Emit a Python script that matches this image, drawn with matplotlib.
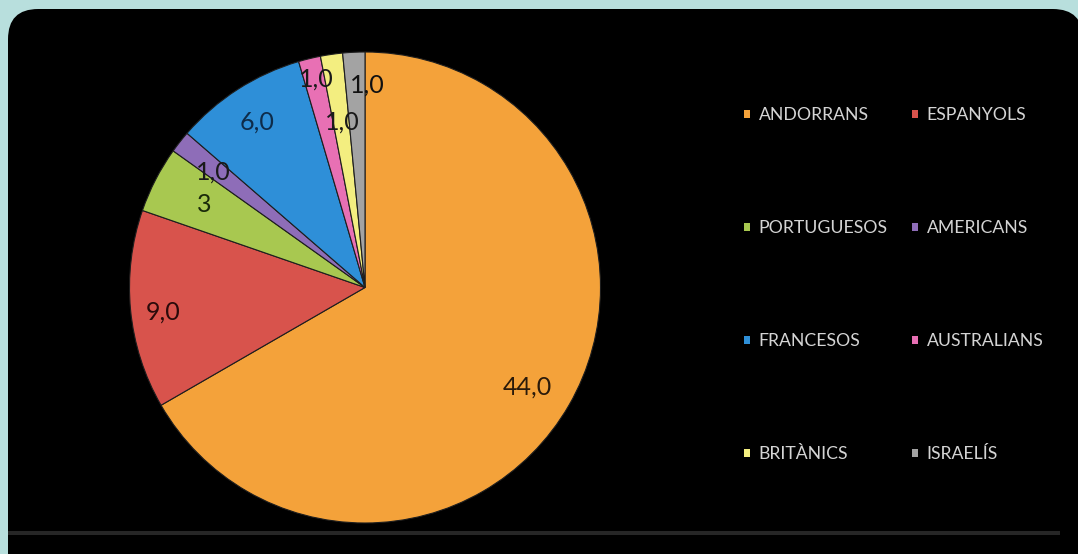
import matplotlib
matplotlib.use("Agg")
import matplotlib.pyplot as plt
from matplotlib.patches import FancyBboxPatch, Rectangle
import numpy as np

categories = ["ANDORRANS", "ESPANYOLS", "PORTUGUESOS", "AMERICANS",
              "FRANCESOS", "AUSTRALIANS", "BRITÀNICS", "ISRAELÍS"]
values = [44, 9, 3, 1, 6, 1, 1, 1]
value_labels = ["44,0", "9,0", "3", "1,0", "6,0", "1,0", "1,0", "1,0"]
colors = ["#F4A23A", "#D8534C", "#A8C850", "#8E6DB8",
          "#2E8FD8", "#E870B4", "#F3EE80", "#A3A3A3"]

W, H = 1078, 554
fig = plt.figure(figsize=(W / 100, H / 100), dpi=100)
fig.patch.set_facecolor("#b8dfdd")

# black rounded panel
panel = FancyBboxPatch((8 / W, (H - 600) / H), 1075 / W, 591 / H,
                       boxstyle="round,pad=0,rounding_size=0.028",
                       transform=fig.transFigure, facecolor="black",
                       edgecolor="none", mutation_aspect=W / H, zorder=-2)
fig.patches.append(panel)
# thin grey line near bottom
fig.patches.append(Rectangle((8 / W, (H - 535) / H), 1052 / W, 4 / H,
                             transform=fig.transFigure, facecolor="#262626",
                             edgecolor="none", zorder=-1))

# pie axes
cx, cy, R = 365, H - 287.5, 235.5
ax = fig.add_axes([(cx - R) / W, (cy - R) / H, 2 * R / W, 2 * R / H])
ax.set_zorder(1)
ax.set_facecolor("none")
wedges, _ = ax.pie(values, colors=colors, startangle=90, counterclock=False,
                   radius=1.0, wedgeprops=dict(edgecolor="#1e1e1e", linewidth=0.8))
ax.set_xlim(-1, 1)
ax.set_ylim(-1, 1)
ax.axis("off")

label_r = [0.81, 0.865, 0.77, 0.81, 0.84, 0.91, 0.71, 0.86]
label_da = [-1.5, 1.5, 0, 1, 0.5, -0.5, -0.5, -3.5]
label_col = ["#2a1a0a", "#2a0a0a", "#1a2a0a", "#1a1a1a",
             "#0e2c4a", "#1a1a1a", "#1a1a1a", "#111111"]
for w, txt, r, da, c in zip(wedges, value_labels, label_r, label_da, label_col):
    ang = np.deg2rad((w.theta1 + w.theta2) / 2 + da)
    ax.text(r * np.cos(ang), r * np.sin(ang), txt, ha="center", va="center",
            fontsize=18, family=["Lato", "DejaVu Sans"], color=c)

# legend in two columns
left_idx = [0, 2, 4, 6]
right_idx = [1, 3, 5, 7]

def make_leg(idx, x):
    leg = fig.legend([wedges[i] for i in idx], [categories[i] for i in idx],
                     bbox_to_anchor=(x / W, (H - 107) / H),
                     bbox_transform=fig.transFigure,
                     frameon=False, loc="upper left",
                     prop={"family": ["Lato", "DejaVu Sans"], "size": 12.7},
                     labelspacing=5.5, handlelength=0.34, handleheight=0.34,
                     handletextpad=0.5, borderpad=0, borderaxespad=0,
                     labelcolor="#d4d4d4")
    leg.set_zorder(2)
    for h in leg.legend_handles:
        h.set_edgecolor("none")
    return leg

make_leg(left_idx, 744)
make_leg(right_idx, 912)

fig.savefig("out.png", dpi=100, facecolor=fig.get_facecolor())
